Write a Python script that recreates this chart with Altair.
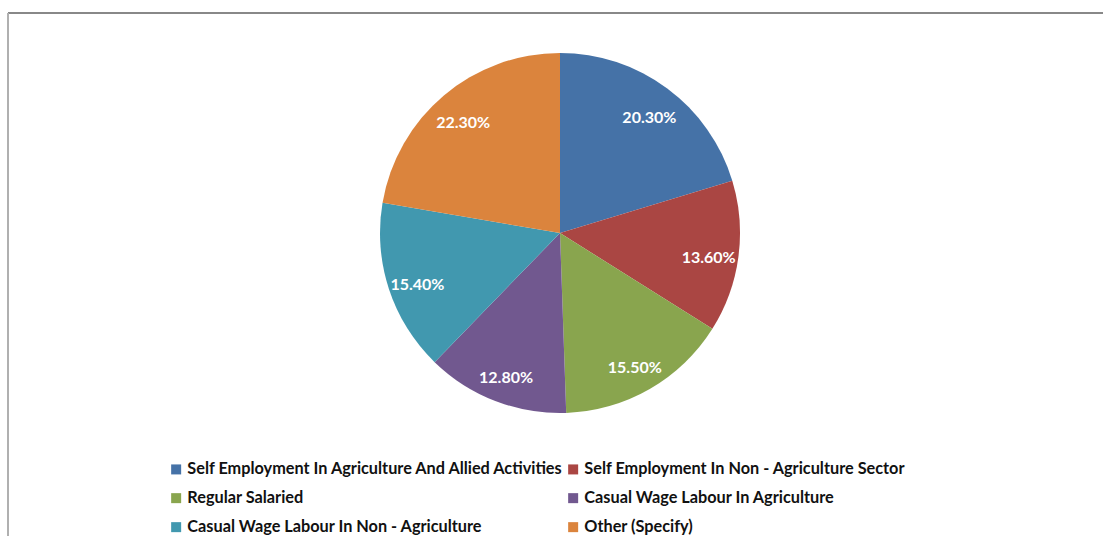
import altair as alt
import pandas as pd

categories = [
    "Self Employment In Agriculture And Allied Activities",
    "Self Employment In Non - Agriculture Sector",
    "Regular Salaried",
    "Casual Wage Labour In Agriculture",
    "Casual Wage Labour In Non - Agriculture",
    "Other (Specify)",
]
values = [20.3, 13.6, 15.5, 12.8, 15.4, 22.3]
labels = ["20.30%", "13.60%", "15.50%", "12.80%", "15.40%", "22.30%"]
colors = ["#4572A7", "#AA4643", "#89A54E", "#71588F", "#4198AF", "#DB843D"]

df = pd.DataFrame({
    "category": categories,
    "value": values,
    "label": labels,
    "order": list(range(len(categories))),
})

# legend is laid out column-major; reorder so it reads row by row
legend_idx = [0, 2, 4, 1, 3, 5]
legend_domain = [categories[i] for i in legend_idx]
legend_range = [colors[i] for i in legend_idx]

FONT = "Lato"
CX, CY, R = 560, 233, 180

base = alt.Chart(df).encode(
    theta=alt.Theta("value:Q", stack=True),
    order=alt.Order("order:Q"),
    x=alt.value(CX),
    y=alt.value(CY),
)

pie = base.mark_arc(radius=R).encode(
    color=alt.Color(
        "category:N",
        scale=alt.Scale(domain=legend_domain, range=legend_range),
        legend=alt.Legend(
            title=None,
            orient="none",
            legendX=168,
            legendY=461,
            columns=2,
            columnPadding=-10,
            rowPadding=12,
            symbolType="square",
            symbolSize=100,
            symbolStrokeWidth=0,
            labelFont=FONT,
            labelFontSize=16.3,
            labelFontWeight="bold",
            labelColor="#111111",
            labelOffset=3,
            labelLimit=600,
            padding=0,
        ),
    )
)

text = base.mark_text(
    radius=150, dy=5, font=FONT, fontSize=16, fontWeight="bold", color="white"
).encode(text="label:N")

frame_top = alt.Chart(df).mark_rule(color="#888888", strokeWidth=1.5).encode(
    x=alt.value(8), x2=alt.value(1103), y=alt.value(13)
)
frame_left = alt.Chart(df).mark_rule(color="#b0b0b0", strokeWidth=1.5).encode(
    x=alt.value(8), y=alt.value(13), y2=alt.value(536)
)

chart = alt.layer(frame_top, frame_left, pie, text).properties(
    width=1103,
    height=536,
    padding=0,
    autosize=alt.AutoSizeParams(type="none"),
    background="white",
).configure_view(strokeWidth=0)

chart.save("out.html", embed_options={"renderer": "svg", "actions": False})
